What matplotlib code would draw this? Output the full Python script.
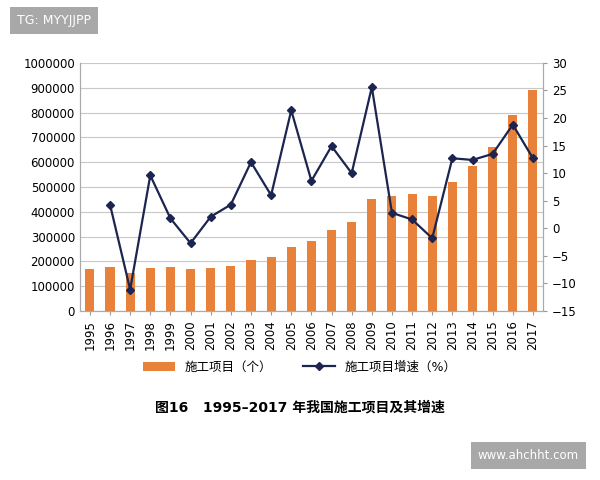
import matplotlib
matplotlib.use("Agg")
import matplotlib.pyplot as plt
from matplotlib.ticker import FuncFormatter

plt.rcParams["font.family"] = ["DejaVu Sans", "Noto Sans CJK SC"]

years = [str(y) for y in range(1995, 2018)]
projects = [170000, 176000, 154000, 173000, 176000, 170000, 173000, 181000,
            204000, 216000, 260000, 283000, 326000, 358000, 450000, 463000,
            471000, 463000, 519000, 584000, 663000, 789000, 889000]
growth_years = years[1:]
growth = [4.3, -11.1, 9.6, 1.8, -2.7, 2.1, 4.3, 12.0, 6.0, 21.4, 8.6, 14.9,
          10.0, 25.6, 2.8, 1.6, -1.8, 12.7, 12.4, 13.5, 18.8, 12.7]

fig = plt.figure(figsize=(6, 4.8), dpi=100)
ax = fig.add_axes([0.133, 0.352, 0.772, 0.517])
x = list(range(len(years)))
ax.bar(x, projects, width=0.45, color="#E8823A", label="施工项目（个）", zorder=2)
ax.set_ylim(0, 1000000)
ax.set_yticks(range(0, 1000001, 100000))
ax.yaxis.set_major_formatter(FuncFormatter(lambda v, p: f"{int(v)}"))
ax.set_xlim(-0.5, len(years) - 0.5)
ax.set_xticks(x)
ax.set_xticklabels(years, rotation=90, fontsize=8.5)
ax.tick_params(axis="y", labelsize=8.5, length=0)
ax.tick_params(axis="x", length=3, color="#999999")
ax.grid(axis="y", color="#C8C8C8", linewidth=0.8, zorder=0)
ax.spines["top"].set_visible(False)
for s in ["left", "right", "bottom"]:
    ax.spines[s].set_color("#AAAAAA")

ax2 = ax.twinx()
gx = [years.index(y) for y in growth_years]
ax2.plot(gx, growth, color="#1C2550", linewidth=1.6, marker="D", markersize=4,
         label="施工项目增速（%）", zorder=3)
ax2.set_ylim(-15, 30)
ax2.set_yticks(range(-15, 31, 5))
ax2.tick_params(axis="y", labelsize=8.5, length=3, color="#999999")
ax2.spines["top"].set_visible(False)
for s in ["left", "right", "bottom"]:
    ax2.spines[s].set_color("#AAAAAA")

h1, l1 = ax.get_legend_handles_labels()
h2, l2 = ax2.get_legend_handles_labels()
fig.legend(h1 + h2, l1 + l2, loc="center", bbox_to_anchor=(0.5, 0.235), ncol=2,
           frameon=False, fontsize=9, handlelength=2.5, columnspacing=2.5)

fig.text(0.5, 0.152, "图16   1995–2017 年我国施工项目及其增速", ha="center",
         va="center", fontsize=10, fontweight="bold")

fig.text(0.028, 0.958, "TG: MYYJJPP", color="white", fontsize=9, va="center",
         bbox=dict(boxstyle="square,pad=0.55", facecolor="#A8A8A8", edgecolor="none"))
fig.text(0.965, 0.051, "www.ahchht.com", color="white", fontsize=8.5, ha="right",
         va="center",
         bbox=dict(boxstyle="square,pad=0.6", facecolor="#A8A8A8", edgecolor="none"))

fig.savefig("out.png", dpi=100)
